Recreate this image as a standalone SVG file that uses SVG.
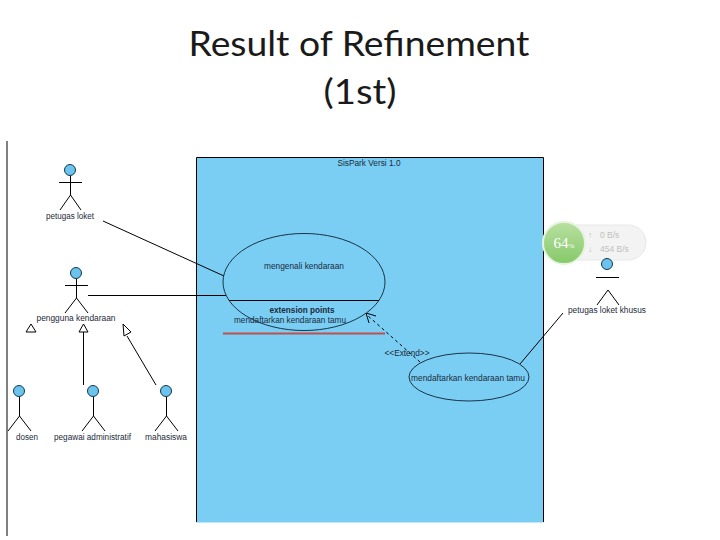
<svg xmlns="http://www.w3.org/2000/svg" width="720" height="540" viewBox="0 0 720 540">
<style>
text{font-family:"Liberation Sans",Arial,sans-serif;font-size:8.5px;fill:#1c2a3a;text-anchor:middle}
.title{font-family:Lato,"Liberation Sans",sans-serif;font-size:34px;fill:#1a1a1a}
.ln{fill:none;stroke:#000;stroke-width:1}
.head{fill:#6cc4ee;stroke:#12384f;stroke-width:1}
.uc{fill:#7acef4;stroke:#0d2233;stroke-width:0.9}
.tri{fill:#fff;stroke:#000;stroke-width:1}
.sm{font-size:8.5px;fill:#c0c0c0;text-anchor:start}
</style>
<defs>
<linearGradient id="green" x1="0" y1="0" x2="0" y2="1"><stop offset="0" stop-color="#b9e0a0"/><stop offset="1" stop-color="#86c96a"/></linearGradient>
</defs>
<rect width="720" height="540" fill="#fff"/>
<g id="title">
<text class="title" x="359" y="56" textLength="341" lengthAdjust="spacingAndGlyphs">Result of Refinement</text>
<text class="title" x="360" y="104" textLength="73" lengthAdjust="spacingAndGlyphs">(1st)</text>
</g>
<rect id="left-rule" x="6" y="141" width="2" height="395" fill="#808080"/>
<g id="system">
<rect x="196.500" y="157.500" width="347" height="365" fill="#7acef4"/>
<path class="ln" d="M196.500 522V157.500H543.500V522"/>
<text x="369" y="166" textLength="63" lengthAdjust="spacingAndGlyphs">SisPark Versi 1.0</text>
</g>
<g id="widget">
<rect x="546" y="225" width="100" height="35" rx="17.500" fill="#f3f3f3" stroke="#e8e8e8"/>
<circle cx="564" cy="243" r="21" fill="url(#green)" stroke="#e6f3de" stroke-width="2"/>
<text x="564" y="248" style="font-size:15px;fill:#fff;font-family:'Liberation Serif',serif">64<tspan font-size="7">%</tspan></text>
<text class="sm" x="588" y="238">↑</text><text class="sm" x="600" y="238">0 B/s</text>
<text class="sm" x="588" y="252">↓</text><text class="sm" x="600" y="252">454 B/s</text>
</g>
<g id="connectors">
<path class="ln" d="M103 221L224 276"/>
<path class="ln" d="M88 295.500H226"/>
<path class="ln" d="M83.500 332V385"/>
<path class="ln" d="M127 336L156 385"/>
<path class="ln" d="M520 364L563 313"/>
<path class="ln" stroke-dasharray="3 3" d="M420 362L367 315"/>
<path class="ln" d="M376 316L366 313L369 323"/>
<path class="tri" d="M31 324L26 332H36Z"/>
<path class="tri" d="M83.500 324L79 332H88Z"/>
<path class="tri" d="M123 324L124 336L131 332Z"/>
<text x="407" y="356" textLength="45" lengthAdjust="spacingAndGlyphs">&lt;&lt;Extend&gt;&gt;</text>
</g>
<g id="uc-mengenali">
<ellipse class="uc" cx="304" cy="282" rx="81" ry="48.500"/>
<path class="ln" d="M229 300.500H379"/>
<text x="304" y="269" textLength="80" lengthAdjust="spacingAndGlyphs">mengenali kendaraan</text>
<text x="302" y="313" textLength="65" lengthAdjust="spacingAndGlyphs" font-weight="bold">extension points</text>
<text x="290" y="323" textLength="112" lengthAdjust="spacingAndGlyphs">mendaftarkan kendaraan tamu</text>
<path d="M223 333.500H385" fill="none" stroke="#c0504d" stroke-width="2"/>
</g>
<g id="uc-mendaftarkan">
<ellipse class="uc" cx="469" cy="377" rx="60" ry="24"/>
<text x="468" y="381" textLength="114" lengthAdjust="spacingAndGlyphs">mendaftarkan kendaraan tamu</text>
</g>
<g id="actor-petugas-loket">
<circle class="head" cx="70" cy="170" r="5.500"/>
<path class="ln" d="M59 182.500H82M70.500 176V195M60 210L70.500 195L81 210"/>
<text x="70" y="219" textLength="48" lengthAdjust="spacingAndGlyphs">petugas loket</text>
</g>
<g id="actor-pengguna">
<circle class="head" cx="76" cy="273" r="5.500"/>
<path class="ln" d="M65 285.500H88M76.500 279V298M65 313L76.500 298L88 313"/>
<text x="76" y="321" textLength="79" lengthAdjust="spacingAndGlyphs">pengguna kendaraan</text>
</g>
<g id="actor-dosen">
<circle class="head" cx="19" cy="391" r="5.500"/>
<path class="ln" d="M19.500 397V416M8 431L19.500 416L31 431"/>
<text x="27" y="440" textLength="22" lengthAdjust="spacingAndGlyphs">dosen</text>
</g>
<g id="actor-pegawai">
<circle class="head" cx="93" cy="391" r="5.500"/>
<path class="ln" d="M93.500 397V416M82 431L93.500 416L105 431"/>
<text x="92.500" y="440" textLength="77" lengthAdjust="spacingAndGlyphs">pegawai administratif</text>
</g>
<g id="actor-mahasiswa">
<circle class="head" cx="166" cy="391" r="5.500"/>
<path class="ln" d="M166.500 397V416M155 431L166.500 416L178 431"/>
<text x="166" y="440" textLength="42" lengthAdjust="spacingAndGlyphs">mahasiswa</text>
</g>
<g id="actor-petugas-khusus">
<circle class="head" cx="607" cy="264" r="5.500"/>
<path class="ln" d="M596 277.500H619M597 305L608 290L619 305"/>
<text x="607" y="313" textLength="78" lengthAdjust="spacingAndGlyphs">petugas loket khusus</text>
</g>
</svg>
